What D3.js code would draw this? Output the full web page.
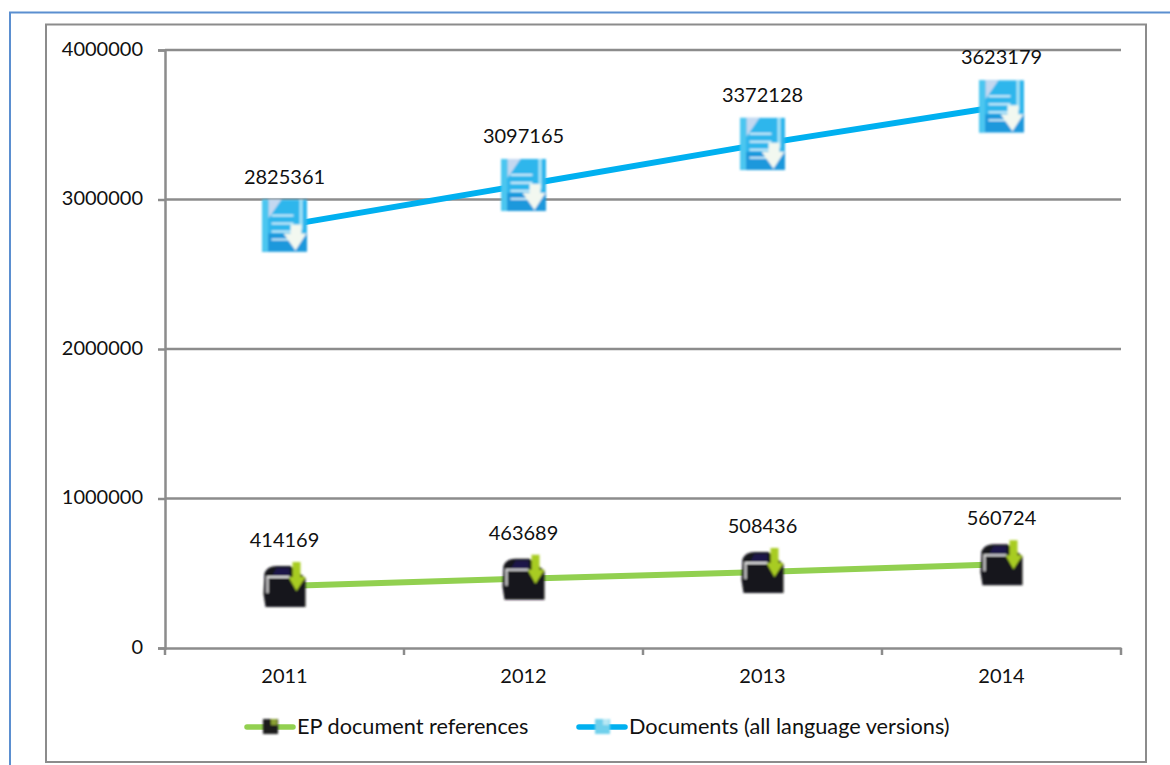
<!DOCTYPE html>
<html>
<head>
<meta charset="utf-8">
<script src="https://cdn.jsdelivr.net/npm/d3@7"></script>
<style>
  html, body { margin: 0; padding: 0; background: #fff; }
  svg { display: block; }
  text { font-family: Lato, "Open Sans", sans-serif; font-size: 20px; fill: #111; }
</style>
</head>
<body>
<svg id="chart" width="1170" height="765"></svg>
<script>
const years = ['2011', '2012', '2013', '2014'];
const epReferences = [414169, 463689, 508436, 560724];
const allDocuments = [2825361, 3097165, 3372128, 3623179];
const yTicks = [0, 1000000, 2000000, 3000000, 4000000];
const legendLabels = ['EP document references', 'Documents (all language versions)'];

const margin = { left: 165, right: 49, top: 50, bottom: 117 };
const size = { width: 1170, height: 765 };
const gray = '#8c8c8c';
const blue = '#00b0f0';
const green = '#92d050';

const svg = d3.select('#chart');

// the icons in the original are low-res bitmaps, so soften ours a bit
svg.append('defs').append('filter')
  .attr('id', 'soft')
  .append('feGaussianBlur')
  .attr('stdDeviation', 0.9);

// page frame and chart frame
svg.append('path')
  .attr('d', 'M10 765V12.5H1170')
  .attr('fill', 'none')
  .attr('stroke', '#5b8fd0')
  .attr('stroke-width', 2);
svg.append('rect')
  .attr('x', 46).attr('y', 24.5)
  .attr('width', 1100).attr('height', 737.5)
  .attr('fill', '#fff')
  .attr('stroke', gray)
  .attr('stroke-width', 2);

const xScale = d3.scaleBand()
  .domain(years)
  .range([margin.left, size.width - margin.right]);

const yScale = d3.scaleLinear()
  .domain([0, 4000000])
  .range([size.height - margin.bottom, margin.top]);

// horizontal gridlines
svg.append('g')
  .selectAll('line')
  .data(yTicks.slice(1))
  .enter()
  .append('line')
  .attr('x1', margin.left)
  .attr('x2', size.width - margin.right)
  .attr('y1', d => yScale(d))
  .attr('y2', d => yScale(d))
  .attr('stroke', gray)
  .attr('stroke-width', 2.5);

// Y-axis
const yAxis = d3.axisLeft(yScale).tickValues(yTicks).tickFormat(d3.format('d')).tickSize(7).tickPadding(15);
const yG = svg.append('g')
  .attr('transform', `translate(${margin.left}, 0)`)
  .call(yAxis);
yG.selectAll('text').attr('y', -1);

// X-axis, ticks sit between the categories
const xAxis = d3.axisBottom(xScale).tickSize(0).tickPadding(21);
const xG = svg.append('g')
  .attr('transform', `translate(0, ${size.height - margin.bottom})`)
  .call(xAxis);
xG.selectAll('.boundary')
  .data(xScale.domain().concat('end'))
  .enter()
  .append('line')
  .attr('class', 'boundary')
  .attr('x1', d => d === 'end' ? xScale.range()[1] : xScale(d))
  .attr('x2', d => d === 'end' ? xScale.range()[1] : xScale(d))
  .attr('y1', 0)
  .attr('y2', 7)
  .attr('stroke', gray)
  .attr('stroke-width', 2.5);

[yG, xG].forEach(g => {
  g.selectAll('.domain').attr('stroke', gray).attr('stroke-width', 2.5);
  g.selectAll('.tick line').attr('stroke', gray).attr('stroke-width', 2.5);
  g.selectAll('text').style('font-size', '20px').attr('fill', '#111');
  g.attr('font-family', null).attr('font-size', null);
});

// file icon on the blue series
function blueIcon(g) {
  g.attr('filter', 'url(#soft)');
  g.append('rect').attr('x', -22.5).attr('y', -26).attr('width', 45).attr('height', 52).attr('fill', '#2fb6ec');
  g.append('rect').attr('x', -22.5).attr('y', 8).attr('width', 45).attr('height', 18).attr('fill', '#1c98dc');
  g.append('path').attr('d', 'M-16 -7L-3 -26H-16Z').attr('fill', '#c4d8f0');
  g.append('rect').attr('x', -22.5).attr('y', -26).attr('width', 6).attr('height', 52).attr('fill', '#4cc6f0');
  g.append('rect').attr('x', 15).attr('y', -26).attr('width', 3).attr('height', 30).attr('fill', '#a8e4f7');
  [-11, -3, 5, 13].forEach(y => {
    g.append('rect').attr('x', -13).attr('y', y).attr('width', 22).attr('height', 1.8).attr('fill', '#dcf5fc');
  });
  g.append('path').attr('d', 'M6 -1H17V8H22L11 25L-1 8H6Z').attr('fill', '#f2f8f0');
}

// folder icon on the green series
function blackIcon(g) {
  g.attr('filter', 'url(#soft)');
  g.append('path')
    .attr('d', 'M-20 -13Q-17 -20 -8 -20H6L21 -8V21H-19L-21 8Z')
    .attr('fill', '#17151c');
  g.append('path').attr('d', 'M-8 -18H5V-9H-13Z').attr('fill', '#1c1848');
  g.append('path').attr('d', 'M-17 7V-9H5').attr('fill', 'none').attr('stroke', '#e4e4e4').attr('stroke-width', 2);
  g.append('path').attr('d', 'M8 -24H16V-9H21L12 5L4 -9H8Z').attr('fill', '#a8cc20');
}

const line = d3.line()
  .x((d, i) => xScale(years[i]) + xScale.bandwidth() / 2)
  .y(d => yScale(d));

const series = [
  { values: epReferences, color: green, icon: blackIcon, labelGap: 39 },
  { values: allDocuments, color: blue, icon: blueIcon, labelGap: 42 }
];

series.forEach(s => {
  svg.append('path')
    .attr('d', line(s.values))
    .attr('fill', 'none')
    .attr('stroke', s.color)
    .attr('stroke-width', 6);

  svg.append('g')
    .selectAll('g')
    .data(s.values)
    .enter()
    .append('g')
    .attr('transform', (d, i) => `translate(${xScale(years[i]) + xScale.bandwidth() / 2}, ${yScale(d)})`)
    .each(function () { s.icon(d3.select(this)); });

  svg.append('g')
    .selectAll('text')
    .data(s.values)
    .enter()
    .append('text')
    .attr('x', (d, i) => xScale(years[i]) + xScale.bandwidth() / 2)
    .attr('y', d => yScale(d) - s.labelGap)
    .attr('text-anchor', 'middle')
    .text(d => d);
});

// legend
const legendItems = [
  { x: 247, color: green, swatch: '#1a1a1a', accent: '#8aa030', label: legendLabels[0] },
  { x: 579, color: blue, swatch: '#6fd0ec', accent: '#b8e8f4', label: legendLabels[1] }
];
const legend = svg.append('g').attr('transform', 'translate(0, 727)');
legendItems.forEach(it => {
  legend.append('line')
    .attr('x1', it.x).attr('x2', it.x + 46)
    .attr('y1', 0).attr('y2', 0)
    .attr('stroke', it.color)
    .attr('stroke-width', 5.5)
    .attr('stroke-linecap', 'round');
  const sw = legend.append('g').attr('filter', 'url(#soft)');
  sw.append('rect')
    .attr('x', it.x + 16).attr('y', -8)
    .attr('width', 15).attr('height', 15)
    .attr('fill', it.swatch);
  sw.append('rect')
    .attr('x', it.x + 24).attr('y', -8)
    .attr('width', 6).attr('height', 6)
    .attr('fill', it.accent);
  legend.append('text')
    .attr('x', it.x + 50)
    .attr('y', 7)
    .style('font-size', '21.7px')
    .text(it.label);
});
</script>
</body>
</html>
